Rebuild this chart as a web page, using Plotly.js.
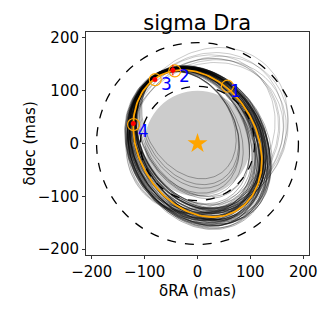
<!DOCTYPE html>
<html>
<head>
<meta charset="utf-8">
<script src="https://cdn.plot.ly/plotly-3.0.1.min.js"></script>
<style>html,body{margin:0;padding:0;background:#fff}#chart{width:319px;height:319px}</style>
</head>
<body>
<div id="chart"></div>
<script>
// ---- data ----
const tickVals = [-200, -100, 0, 100, 200];
const tickText = ["\u2212200", "\u2212100", "0", "100", "200"];
const chartTitle = 'sigma Dra';
const xTitle = '\u03B4RA (mas)';
const yTitle = '\u03B4dec (mas)';

// best-fit orbit (orange): centre, semi-axes, position angle of major axis (deg)
const bestCx = 0, bestCy = 0, bestA = 147, bestB = 112, bestAng = 120;

// sample orbits anchored at the upper-left vertex (black bundle)
const anchorX = -73.5, anchorY = 127.3;
const orbA   = [147,150,143,155,152,140,158,145,149,153,138,156,148,151,144,160,146,142,154,150,157,141,148,152,145,159,143,150,147,155,139,153,149,146,156,144,151,148,158,142,135,130,125,118,110,
                145,152,158,141,149,155,147,160,143,151,156,139,148,153,146,157,150,144,159,142,154,148,152,145,149,137,133,128,122,115];
const orbB   = [112,115,108,118,120,106,122,110,114,124,104,117,111,119,109,126,113,107,121,116,125,105,112,118,110,123,108,128,113,119,103,117,115,111,127,109,120,114,124,106,100,96,90,85,80,
                118,110,120,112,123,107,116,121,113,126,111,105,122,109,119,114,124,108,118,117,129,121,106,125,115,102,99,94,88,83];
const orbAng = [120,118,122,119,121,117,120,123,116,121,119,118,124,120,122,119,117,121,123,118,120,122,119,116,124,121,118,120,122,117,121,119,123,118,120,122,117,121,119,123,120,121,119,120,122,
                121,119,118,122,120,117,123,119,121,118,122,120,117,121,119,123,118,120,122,116,119,121,120,118,122,121,119,122,118,121];
const orbDr  = [2,4,1,6,3,0,5,2,7,3,1,4,6,2,5,3,0,4,2,6,3,1,5,2,4,7,3,1,5,2,0,4,6,3,5,1,2,4,6,3,1,2,0,1,2,
                3,5,2,4,6,1,3,5,2,7,4,0,5,3,6,2,4,1,5,3,6,2,4,1,3,2,1,0,2,1];

// wide outlier orbits (upper-right loops): centre, semi-axes, angle
const loopCx  = [15, 10, 20, 12, 18, 8, 22, 14];
const loopCy  = [20, 15, 25, 18, 12, 22, 16, 10];
const loopA   = [160, 155, 165, 150, 158, 152, 160, 156];
const loopB   = [140, 136, 142, 134, 138, 132, 138, 135];
const loopAng = [50, 45, 52, 48, 40, 55, 44, 38];

// observations
const obsX = [-121.5, -80.6, -46.6];
const obsY = [37.9, 121.0, 138.8];
const obsErr = [2, 2, 10];
// predicted epochs on best orbit (open circles)
const predX = [56.6, -43.0, -80.0, -121.0];
const predY = [108.5, 137.5, 121.0, 36.0];
const epochLabels = ["1", "2", "3", "4"];
const labelX = [72, -25, -59, -103];
const labelY = [96, 125, 109, 21];

// circles: gray disk radius, dashed radii
const diskR = 100;
const dashR = [191, 108];

// ---- geometry ----
function ellipse(cx, cy, a, b, angDeg) {
  const t = angDeg * Math.PI / 180, c = Math.cos(t), s = Math.sin(t);
  const xs = [], ys = [];
  const n = 160;
  for (let i = 0; i <= n; i++) {
    const th = 2 * Math.PI * i / n;
    const u = a * Math.cos(th), v = b * Math.sin(th);
    xs.push(cx + u * c - v * s);
    ys.push(cy + u * s + v * c);
  }
  return [xs, ys];
}

const bx = [], by = [];
for (let i = 0; i < orbA.length; i++) {
  const t = orbAng[i] * Math.PI / 180;
  const vx = anchorX + orbDr[i] * Math.cos(t), vy = anchorY + orbDr[i] * Math.sin(t);
  const cx = vx - orbA[i] * Math.cos(t), cy = vy - orbA[i] * Math.sin(t);
  const [xs, ys] = ellipse(cx, cy, orbA[i], orbB[i], orbAng[i]);
  bx.push(...xs, null); by.push(...ys, null);
}
const lx = [], ly = [];
for (let i = 0; i < loopA.length; i++) {
  const [xs, ys] = ellipse(loopCx[i], loopCy[i], loopA[i], loopB[i], loopAng[i]);
  lx.push(...xs, null); ly.push(...ys, null);
}
const [ox, oy] = ellipse(bestCx, bestCy, bestA, bestB, bestAng);

const traces = [
  {x: lx, y: ly, mode: 'lines', type: 'scatter',
   line: {color: 'rgba(0,0,0,0.35)', width: 0.6}, hoverinfo: 'skip'},
  {x: bx, y: by, mode: 'lines', type: 'scatter',
   line: {color: 'rgba(0,0,0,0.45)', width: 0.7}, hoverinfo: 'skip'},
  {x: ox, y: oy, mode: 'lines', type: 'scatter',
   line: {color: '#FFA500', width: 1.8}},
  {x: predX, y: predY, mode: 'markers', type: 'scatter',
   marker: {symbol: 'circle-open', size: 12, color: '#FFA500', line: {width: 1.2}}},
  {x: obsX, y: obsY, mode: 'markers', type: 'scatter',
   marker: {symbol: 'circle', size: 5, color: 'red'},
   error_y: {type: 'data', array: obsErr, color: 'red', thickness: 1, width: 0}},
  {x: [0], y: [0], mode: 'markers', type: 'scatter',
   marker: {symbol: 'star', size: 15, color: '#FFA500', line: {width: 0}}},
  {x: labelX, y: labelY, mode: 'text', type: 'scatter', text: epochLabels,
   textfont: {family: 'DejaVu Sans', size: 17, color: '#0000ff'}}
];

const shapes = [
  {type: 'circle', xref: 'x', yref: 'y', x0: -diskR, x1: diskR, y0: -diskR, y1: diskR,
   fillcolor: '#cccccc', line: {width: 0}, layer: 'below'}
];
dashR.forEach(r => shapes.push({type: 'circle', xref: 'x', yref: 'y', x0: -r, x1: r, y0: -r, y1: r,
  line: {color: 'black', width: 1.3, dash: 'dash'}, layer: 'below'}));

const axisCommon = {
  tickvals: tickVals, ticktext: tickText, ticks: 'outside', ticklen: 3, tickwidth: 1,
  tickcolor: '#333', showline: true, linecolor: '#333', linewidth: 1, mirror: true,
  showgrid: false, zeroline: false,
  tickfont: {family: 'DejaVu Sans', size: 15, color: '#000'}
};

const layout = {
  width: 319, height: 319,
  margin: {l: 86, r: 10, t: 32, b: 64},
  paper_bgcolor: '#fff', plot_bgcolor: '#fff',
  showlegend: false,
  font: {family: 'DejaVu Sans', color: '#000'},
  title: {text: chartTitle, font: {family: 'DejaVu Sans', size: 21, color: '#000'},
          x: 0.618, xanchor: 'center', y: 0.93, yanchor: 'middle', yref: 'container'},
  xaxis: Object.assign({}, axisCommon, {range: [-211, 211]}),
  yaxis: Object.assign({}, axisCommon, {range: [-211, 211]}),
  annotations: [
    {text: xTitle, xref: 'paper', yref: 'paper', x: 0.5, y: -0.16, xanchor: 'center', yanchor: 'middle',
     showarrow: false, font: {family: 'DejaVu Sans', size: 15, color: '#000'}},
    {text: yTitle, xref: 'paper', yref: 'paper', x: -0.2556, y: 0.5, xanchor: 'center', yanchor: 'middle',
     textangle: -90, showarrow: false, font: {family: 'DejaVu Sans', size: 15, color: '#000'}}
  ],
  shapes: shapes
};

Plotly.newPlot('chart', traces, layout, {staticPlot: true, displayModeBar: false});
</script>
</body>
</html>
